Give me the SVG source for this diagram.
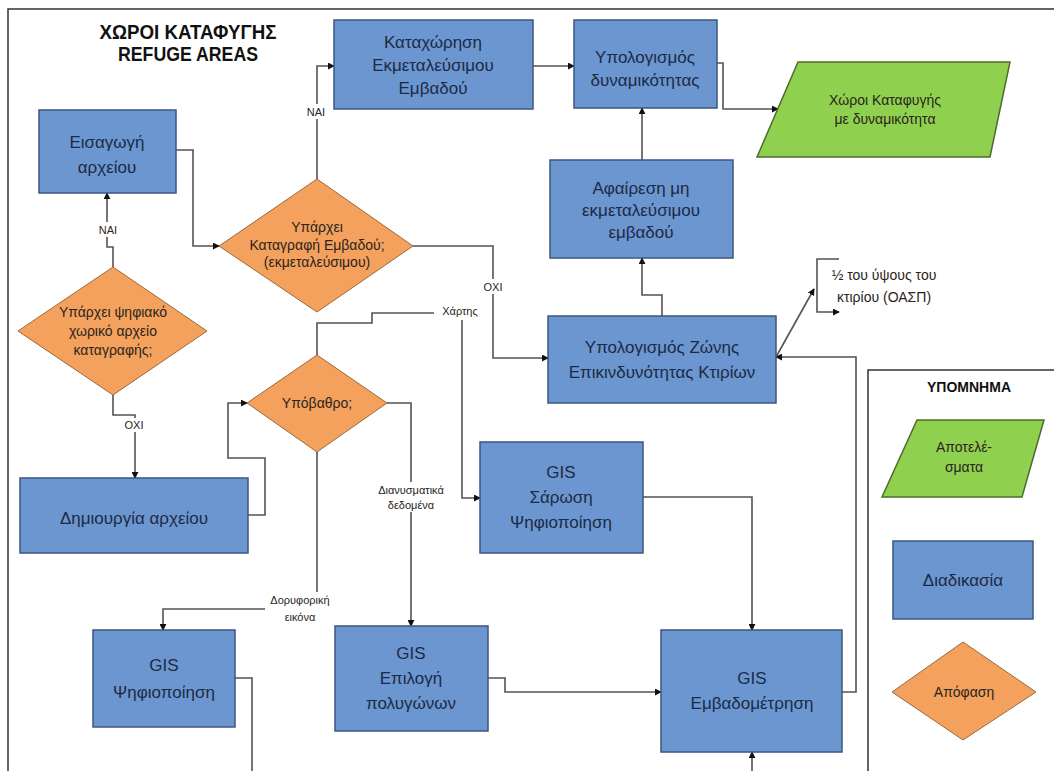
<svg xmlns="http://www.w3.org/2000/svg" width="1054" height="771" viewBox="0 0 1054 771">
  <style>
    .proc { fill: #6c96d0; stroke: #3d5683; stroke-width: 1.5; }
    .dec { fill: #f3a15d; stroke: #9a6a3c; stroke-width: 1; }
    .out { fill: #8fd14f; stroke: #4f6b2c; stroke-width: 1.5; }
    .t { font-family: "Liberation Sans", Arial, sans-serif; fill: #1c2a45; text-anchor: middle; }
    .tb { font-size: 17px; }
    .td { font-size: 14px; fill: #2a2420; }
    .tl { font-size: 11px; fill: #2a2420; }
    .title { font-family: "Liberation Sans", Arial, sans-serif; font-weight: bold; fill: #111; text-anchor: middle; }
    .conn { fill: none; stroke: #5a5050; stroke-width: 1.6; }
    .frame { fill: none; stroke: #333; stroke-width: 1.5; }
    .lbg { fill: #fff; }
  </style>
  <defs>
    <marker id="arr" viewBox="0 0 8 8" refX="7" refY="4" markerWidth="7" markerHeight="7" markerUnits="userSpaceOnUse" orient="auto">
      <path d="M0,0 L8,4 L0,8 z" fill="#111"/>
    </marker>
  </defs>

  <rect width="1054" height="771" fill="#fff"/>

  <!-- outer frame (open to the right and bottom) -->
  <path class="frame" d="M8,771 V9 H1054"/>

  <!-- title -->
  <g id="title">
    <text class="title" x="188" y="39" font-size="20" textLength="177" lengthAdjust="spacingAndGlyphs">ΧΩΡΟΙ ΚΑΤΑΦΥΓΗΣ</text>
    <text class="title" x="188" y="61" font-size="20" textLength="140" lengthAdjust="spacingAndGlyphs">REFUGE AREAS</text>
  </g>

  <!-- connectors -->
  <g id="connectors">
    <path class="conn" d="M176,150 H193 V246 H219" marker-end="url(#arr)"/>
    <path class="conn" d="M317,179 V66 H334" marker-end="url(#arr)"/>
    <path class="conn" d="M533,66 H574" marker-end="url(#arr)"/>
    <path class="conn" d="M717,63 H723 V109 H778" marker-end="url(#arr)"/>
    <path class="conn" d="M642,160 V108" marker-end="url(#arr)"/>
    <path class="conn" d="M662,316 V295 H642 V258" marker-end="url(#arr)"/>
    <path class="conn" d="M413,246 H493 V358 H548" marker-end="url(#arr)"/>
    <path class="conn" d="M776,357 L814,289" marker-end="url(#arr)"/>
    <path class="conn" d="M839,259 H817 V312 H839" marker-end="url(#arr)"/>
    <path class="conn" d="M842,692 H856 V357 H776" marker-end="url(#arr)"/>
    <path class="conn" d="M113,267 V247 H107 V193" marker-end="url(#arr)"/>
    <path class="conn" d="M113,395 V415 H135 V478" marker-end="url(#arr)"/>
    <path class="conn" d="M248,515 H265 V458 H228 V403 H247" marker-end="url(#arr)"/>
    <path class="conn" d="M317,355 V323 H372 V313 H462 V498 H480" marker-end="url(#arr)"/>
    <path class="conn" d="M387,403 H411 V626" marker-end="url(#arr)"/>
    <path class="conn" d="M317,452 V609 H163 V630" marker-end="url(#arr)"/>
    <path class="conn" d="M235,678 H252 V771"/>
    <path class="conn" d="M488,678 H505 V692 H661" marker-end="url(#arr)"/>
    <path class="conn" d="M643,497 H752 V630" marker-end="url(#arr)"/>
    <path class="conn" d="M752,771 V752" marker-end="url(#arr)"/>
  </g>

  <!-- connector labels -->
  <g id="labels">
    <rect class="lbg" x="303" y="104" width="27" height="15"/>
    <text class="t tl" x="316" y="116">NAI</text>
    <rect class="lbg" x="95" y="222" width="27" height="15"/>
    <text class="t tl" x="108" y="234">NAI</text>
    <rect class="lbg" x="479" y="279" width="28" height="15"/>
    <text class="t tl" x="493" y="291">OXI</text>
    <rect class="lbg" x="120" y="418" width="28" height="14"/>
    <text class="t tl" x="134" y="429">OXI</text>
    <rect class="lbg" x="434" y="304" width="52" height="16"/>
    <text class="t tl" x="460" y="315">Χάρτης</text>
    <rect class="lbg" x="374" y="482" width="74" height="30"/>
    <text class="t tl" x="411" y="494">Διανυσματικά</text>
    <text class="t tl" x="411" y="509">δεδομένα</text>
    <rect class="lbg" x="265" y="592" width="70" height="32"/>
    <text class="t tl" x="300" y="604">Δορυφορική</text>
    <text class="t tl" x="300" y="621">εικόνα</text>
    <text class="t td" x="884" y="280">½ του ύψους του</text>
    <text class="t td" x="884" y="302">κτιρίου (ΟΑΣΠ)</text>
  </g>

  <g id="n-eisagogi">
    <rect class="proc" x="39" y="110" width="137" height="83"/>
    <text class="t tb" x="107" y="148">Εισαγωγή</text>
    <text class="t tb" x="107" y="173">αρχείου</text>
  </g>

  <g id="n-katagrafi">
    <polygon class="dec" points="317,179 413,246 317,312 219,246"/>
    <text class="t td" x="317" y="232">Υπάρχει</text>
    <text class="t td" x="317" y="250">Καταγραφή Εμβαδού;</text>
    <text class="t td" x="317" y="267">(εκμεταλεύσιμου)</text>
  </g>

  <g id="n-kataxorisi">
    <rect class="proc" x="334" y="20" width="199" height="89"/>
    <text class="t tb" x="433" y="48">Καταχώρηση</text>
    <text class="t tb" x="433" y="71">Εκμεταλεύσιμου</text>
    <text class="t tb" x="433" y="94">Εμβαδού</text>
  </g>

  <g id="n-dynamikotita">
    <rect class="proc" x="574" y="20" width="143" height="88"/>
    <text class="t tb" x="645" y="63">Υπολογισμός</text>
    <text class="t tb" x="645" y="86">δυναμικότητας</text>
  </g>

  <g id="n-result">
    <polygon class="out" points="798,62 1010,62 990,157 757,157"/>
    <text class="t td" x="885" y="105">Χώροι Καταφυγής</text>
    <text class="t td" x="885" y="124">με δυναμικότητα</text>
  </g>

  <g id="n-afairesi">
    <rect class="proc" x="550" y="160" width="183" height="98"/>
    <text class="t tb" x="641" y="194">Αφαίρεση μη</text>
    <text class="t tb" x="641" y="216">εκμεταλεύσιμου</text>
    <text class="t tb" x="641" y="238">εμβαδού</text>
  </g>

  <g id="n-zoni">
    <rect class="proc" x="548" y="316" width="228" height="87"/>
    <text class="t tb" x="662" y="353">Υπολογισμός Ζώνης</text>
    <text class="t tb" x="662" y="378">Επικινδυνότητας Κτιρίων</text>
  </g>

  <g id="n-psifiako">
    <polygon class="dec" points="113,267 207,331 113,395 18,331"/>
    <text class="t td" x="113" y="317">Υπάρχει ψηφιακό</text>
    <text class="t td" x="113" y="336">χωρικό αρχείο</text>
    <text class="t td" x="113" y="355">καταγραφής;</text>
  </g>

  <g id="n-dimiourgia">
    <rect class="proc" x="20" y="478" width="228" height="75"/>
    <text class="t tb" x="134" y="524">Δημιουργία αρχείου</text>
  </g>

  <g id="n-ypovathro">
    <polygon class="dec" points="317,355 387,403 317,452 247,403"/>
    <text class="t td" x="317" y="408">Υπόβαθρο;</text>
  </g>

  <g id="n-sarosi">
    <rect class="proc" x="480" y="442" width="163" height="111"/>
    <text class="t tb" x="561" y="478">GIS</text>
    <text class="t tb" x="561" y="503">Σάρωση</text>
    <text class="t tb" x="561" y="528">Ψηφιοποίηση</text>
  </g>

  <g id="n-psifiopoiisi">
    <rect class="proc" x="93" y="630" width="142" height="97"/>
    <text class="t tb" x="164" y="671">GIS</text>
    <text class="t tb" x="164" y="698">Ψηφιοποίηση</text>
  </g>

  <g id="n-epilogi">
    <rect class="proc" x="335" y="626" width="153" height="105"/>
    <text class="t tb" x="411" y="659">GIS</text>
    <text class="t tb" x="411" y="684">Επιλογή</text>
    <text class="t tb" x="411" y="709">πολυγώνων</text>
  </g>

  <g id="n-emvadometrisi">
    <rect class="proc" x="661" y="630" width="181" height="122"/>
    <text class="t tb" x="752" y="684">GIS</text>
    <text class="t tb" x="752" y="709">Εμβαδομέτρηση</text>
  </g>

  <!-- legend -->
  <g id="legend">
    <path class="frame" d="M868,771 V370 H1054" stroke="#555"/>
    <text class="title" x="969" y="392" font-size="14">ΥΠΟΜΝΗΜΑ</text>
    <polygon class="out" points="917,420 1044,420 1022,497 882,497"/>
    <text class="t td" x="964" y="452">Αποτελέ-</text>
    <text class="t td" x="964" y="472">σματα</text>
    <rect class="proc" x="893" y="541" width="140" height="78"/>
    <text class="t tb" x="963" y="586">Διαδικασία</text>
    <polygon class="dec" points="963,642 1036,692 963,740 892,692"/>
    <text class="t td" x="964" y="697">Απόφαση</text>
  </g>
</svg>
